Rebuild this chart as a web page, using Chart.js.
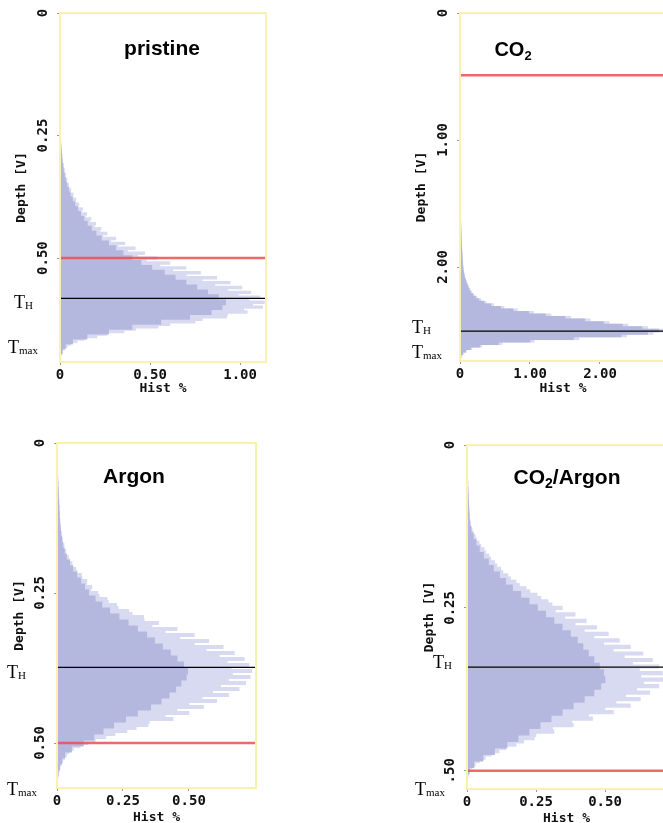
<!DOCTYPE html>
<html><head><meta charset="utf-8">
<script src="https://cdn.jsdelivr.net/npm/chart.js@4.4.1/dist/chart.umd.min.js"></script>
<style>
html,body{margin:0;padding:0;background:#fff;width:663px;height:823px;overflow:hidden;position:relative}
canvas{position:absolute}
</style></head><body>
<canvas id="c1" width="330" height="410" style="left:0px;top:0px;width:330px;height:410px"></canvas>
<canvas id="c2" width="270" height="410" style="left:398px;top:0px;width:270px;height:410px"></canvas>
<canvas id="c3" width="330" height="410" style="left:0px;top:420px;width:330px;height:410px"></canvas>
<canvas id="c4" width="270" height="410" style="left:398px;top:420px;width:270px;height:410px"></canvas>
<script>
// ---------- DATA ----------
const panelTitles = ['pristine', 'CO2', 'Argon', 'CO2/Argon'];
const xAxisTitle = 'Hist %';
const yAxisTitle = 'Depth [V]';

// histogram bin layout (depth of first bin, bin width) per panel
const binStart = [0.25, 1.50, 0.05, 0.05];
const lightStep = [0.005, 0.02, 0.005, 0.005];
const darkStep = [0.01, 0.02, 0.01, 0.01];

// histogram values (Hist %) – light = raw noisy histogram, dark = core
const pristineLight = [0.002,0.003,0.005,0.004,0.007,0.006,0.009,0.008,0.012,0.010,
 0.015,0.013,0.020,0.017,0.025,0.022,0.031,0.028,0.039,0.036,
 0.048,0.045,0.060,0.056,0.073,0.070,0.088,0.084,0.105,0.101,
 0.126,0.118,0.148,0.140,0.172,0.165,0.198,0.190,0.228,0.220,
 0.262,0.238,0.310,0.282,0.360,0.322,0.418,0.375,0.470,0.430,
 0.540,0.480,0.610,0.555,0.700,0.625,0.780,0.700,0.870,0.790,
 0.945,0.860,1.010,0.930,1.060,0.990,1.110,1.050,1.135,1.070,
 1.125,1.020,1.040,0.930,0.925,0.790,0.750,0.610,0.545,0.420,
 0.355,0.260,0.205,0.135,0.095,0.060,0.040,0.024,0.015,0.008,
 0.004];
const pristineDark = [0.002,0.003,0.005,0.007,0.009,0.011,0.015,0.019,0.024,0.030,
 0.038,0.047,0.057,0.069,0.083,0.098,0.115,0.133,0.152,0.175,
 0.200,0.230,0.270,0.310,0.350,0.400,0.450,0.510,0.580,0.640,
 0.700,0.760,0.820,0.880,0.920,0.900,0.840,0.720,0.560,0.400,
 0.270,0.150,0.070,0.030,0.012,0.004];
const co2Light = [0.006,0.006,0.007,0.007,0.008,0.009,0.010,0.011,0.012,0.013,
 0.014,0.016,0.017,0.018,0.019,0.021,0.023,0.025,0.027,0.029,
 0.031,0.033,0.036,0.038,0.041,0.045,0.049,0.055,0.062,0.070,
 0.081,0.094,0.110,0.126,0.143,0.165,0.198,0.242,0.298,0.372,
 0.480,0.630,0.820,1.050,1.300,1.580,1.860,2.130,2.400,2.680,
 2.900,2.760,2.380,1.700,1.060,0.600,0.310,0.170,0.090,0.046,
 0.018,0.006];
const co2Dark = [0.005,0.005,0.006,0.006,0.007,0.008,0.009,0.010,0.011,0.012,
 0.013,0.014,0.015,0.016,0.017,0.019,0.020,0.022,0.024,0.026,
 0.028,0.030,0.032,0.034,0.037,0.040,0.044,0.049,0.055,0.063,
 0.073,0.085,0.100,0.115,0.130,0.150,0.180,0.220,0.270,0.340,
 0.440,0.580,0.760,0.980,1.220,1.500,1.780,2.050,2.320,2.600,
 2.840,2.680,2.300,1.620,1.000,0.550,0.280,0.150,0.080,0.040,
 0.015,0.005];
const argonLight = [0.002,0.003,0.003,0.004,0.004,0.005,0.005,0.006,0.006,0.007,
 0.007,0.008,0.008,0.009,0.010,0.009,0.012,0.011,0.014,0.013,
 0.017,0.016,0.021,0.020,0.027,0.025,0.033,0.032,0.043,0.046,
 0.057,0.058,0.072,0.076,0.093,0.095,0.113,0.112,0.132,0.128,
 0.155,0.160,0.190,0.195,0.226,0.232,0.272,0.285,0.328,0.330,
 0.385,0.360,0.455,0.410,0.520,0.465,0.575,0.520,0.630,0.565,
 0.672,0.615,0.710,0.645,0.728,0.660,0.738,0.665,0.732,0.650,
 0.715,0.620,0.690,0.590,0.650,0.550,0.605,0.500,0.555,0.455,
 0.500,0.410,0.440,0.350,0.345,0.300,0.265,0.220,0.185,0.145,
 0.118,0.088,0.062,0.045,0.036,0.028,0.022,0.016,0.012,0.009,
 0.006,0.004,0.002];
const argonDark = [0.002,0.003,0.004,0.005,0.006,0.007,0.008,0.009,0.010,0.012,
 0.014,0.018,0.022,0.028,0.036,0.048,0.060,0.075,0.090,0.105,
 0.120,0.145,0.170,0.200,0.235,0.270,0.305,0.340,0.370,0.400,
 0.430,0.455,0.480,0.495,0.490,0.470,0.450,0.425,0.395,0.355,
 0.305,0.260,0.215,0.175,0.140,0.100,0.055,0.030,0.018,0.010,
 0.005,0.002];
const mixLight = [0.002,0.002,0.003,0.003,0.004,0.004,0.005,0.005,0.006,0.006,
 0.007,0.008,0.009,0.010,0.013,0.014,0.019,0.022,0.030,0.034,
 0.044,0.050,0.062,0.068,0.080,0.086,0.100,0.108,0.122,0.130,
 0.148,0.158,0.178,0.190,0.214,0.228,0.254,0.268,0.294,0.308,
 0.345,0.320,0.392,0.355,0.432,0.392,0.470,0.425,0.512,0.460,
 0.552,0.495,0.592,0.530,0.638,0.570,0.672,0.600,0.695,0.625,
 0.708,0.630,0.716,0.640,0.695,0.615,0.662,0.575,0.628,0.540,
 0.592,0.500,0.530,0.440,0.455,0.380,0.385,0.310,0.315,0.250,
 0.244,0.205,0.178,0.140,0.116,0.088,0.066,0.045,0.030,0.018,
 0.010,0.005,0.003];
const mixDark = [0.002,0.003,0.004,0.005,0.006,0.007,0.008,0.010,0.015,0.023,
 0.033,0.045,0.060,0.078,0.096,0.118,0.140,0.165,0.195,0.225,
 0.255,0.285,0.315,0.345,0.375,0.400,0.420,0.440,0.460,0.480,
 0.495,0.500,0.485,0.460,0.425,0.385,0.345,0.305,0.265,0.225,
 0.185,0.145,0.100,0.058,0.025,0.008,0.002];

const lightSeries = [pristineLight, co2Light, argonLight, mixLight];
const darkSeries = [pristineDark, co2Dark, argonDark, mixDark];

// reference depths: red line and T_H line
const redLineDepth = [0.50, 0.49, 0.50, 0.50];
const thDepth = [0.582, 2.504, 0.374, 0.341];

// axis ranges and ticks
const depthMax = [0.712, 2.74, 0.575, 0.528];
const depthStep = [0.25, 1, 0.25, 0.25];
const depthTickLabels = [['0','0.25','0.50'], ['0','1.00','2.00'], ['0','0.25','0.50'], ['0','0.25','.50']];
const histMax = [1.144, 2.943, 0.754, 0.721];
const histStep = [0.5, 1, 0.25, 0.25];
const histTickLabels = [['0','0.50','1.00'], ['0','1.00','2.00'], ['0','0.25','0.50'], ['0','0.25','0.50']];

// ---------- STYLE / LAYOUT ----------
const CANVAS_H = 410;
const layoutCfg = [
  {id:'c1', padTop:13, padRight:64, yW:60, xH:48, yTitlePad:14, xTitlePad:14, title:{x:162,y:55,size:21}, th:{x:14,dy:10}, tmax:{x:8,y:353}},
  {id:'c2', padTop:13, padRight:2,  yW:62, xH:49, yTitlePad:16, xTitlePad:14, title:{x:115,y:56,size:20}, th:{x:14,dy:2},  tmax:{x:14,y:358}},
  {id:'c3', padTop:23, padRight:74, yW:57, xH:42, yTitlePad:12, xTitlePad:5,  title:{x:134,y:63,size:21}, th:{x:7,dy:11},  tmax:{x:7,y:375}},
  {id:'c4', padTop:25, padRight:2,  yW:69, xH:41, yTitlePad:24, xTitlePad:4,  title:{x:169,y:64,size:21}, th:{x:35,dy:1},  tmax:{x:17,y:375}}
];
const COL_DARK = 'rgb(181,184,222)';
const COL_LIGHT = 'rgb(216,218,241)';
const COL_RED = 'rgba(238,78,78,0.85)';
const COL_FRAME = 'rgb(250,241,172)';
const MONO = '"DejaVu Sans Mono", monospace';

function toPoints(values, start, step) {
  return values.map((v, i) => ({x: v, y: +(start + i * step).toFixed(4)}));
}

function drawParts(ctx, parts, x, y, align) {
  let w = 0;
  parts.forEach(p => { ctx.font = p.font; p.w = ctx.measureText(p.t).width; w += p.w; });
  let cx = align === 'center' ? x - w / 2 : x;
  ctx.textAlign = 'left'; ctx.textBaseline = 'alphabetic';
  parts.forEach(p => { ctx.font = p.font; ctx.fillText(p.t, cx, y + (p.dy || 0)); cx += p.w; });
}

const decor = {
  id: 'decor',
  afterDatasetsDraw(chart, args, o) {
    const {ctx, chartArea: a} = chart;
    ctx.save();
    ctx.strokeStyle = COL_FRAME; ctx.lineWidth = 2;
    ctx.strokeRect(a.left, a.top, a.right - a.left, a.bottom - a.top);
    ctx.restore();
  },
  afterDraw(chart, args, o) {
    const {ctx} = chart;
    const L = o.layout;
    ctx.save();
    ctx.fillStyle = '#000';
    const sz = L.title.size;
    const parts = o.title.split(/(\d+)/).filter(s => s.length).map(s => /^\d+$/.test(s)
      ? {t: s, font: 'bold ' + Math.round(sz * 0.66) + 'px "Liberation Sans", Arial, sans-serif', dy: 4}
      : {t: s, font: 'bold ' + sz + 'px "Liberation Sans", Arial, sans-serif'});
    drawParts(ctx, parts, L.title.x, L.title.y, 'center');
    const ys = chart.scales.y;
    const serif = '"Liberation Serif", "Times New Roman", serif';
    const yth = ys.getPixelForValue(o.th) + L.th.dy;
    drawParts(ctx, [{t:'T', font:'18px ' + serif}, {t:'H', font:'11px ' + serif, dy:1}], L.th.x, yth, 'left');
    drawParts(ctx, [{t:'T', font:'18px ' + serif}, {t:'max', font:'11px ' + serif, dy:1}], L.tmax.x, L.tmax.y, 'left');
    ctx.restore();
  }
};

function makeChart(k) {
  const L = layoutCfg[k];
  const plotH = CANVAS_H - L.padTop - L.xH;       // chart-area height in px
  const pxPerDepth = plotH / depthMax[k];
  const lineSet = (d, color, w) => ({
    type: 'line', data: [{x: 0, y: d}, {x: histMax[k], y: d}],
    borderColor: color, borderWidth: w, pointRadius: 0, yAxisID: 'y', order: 0
  });
  const barSet = (label, vals, step, axis, color, order) => ({
    label, data: toPoints(vals, binStart[k], step), yAxisID: axis,
    backgroundColor: color, borderWidth: 0, grouped: false,
    barThickness: step * pxPerDepth + 0.3, order
  });
  const yBase = {type: 'linear', reverse: true, min: 0, max: depthMax[k], bounds: 'data', offset: false};
  new Chart(document.getElementById(L.id), {
    type: 'bar',
    data: {
      datasets: [
        lineSet(redLineDepth[k], COL_RED, 2.5),
        lineSet(thDepth[k], '#000', 1.2),
        barSet('core', darkSeries[k], darkStep[k], 'yd', COL_DARK, 1),
        barSet('hist', lightSeries[k], lightStep[k], 'y', COL_LIGHT, 2)
      ]
    },
    options: {
      indexAxis: 'y', responsive: false, animation: false, events: [],
      layout: {padding: {left: 0, top: L.padTop, right: L.padRight, bottom: 0}},
      plugins: {legend: {display: false}, tooltip: {enabled: false},
        decor: {layout: L, title: panelTitles[k], th: thDepth[k]}},
      scales: {
        x: {type: 'linear', position: 'bottom', min: 0, max: histMax[k], bounds: 'data', offset: false,
          border: {display: false},
          grid: {drawOnChartArea: false, drawTicks: true, tickLength: 3, tickColor: '#999', offset: false},
          ticks: {stepSize: histStep[k], includeBounds: false, autoSkip: false, maxRotation: 0, minRotation: 0,
            padding: 2, color: '#111', font: {family: MONO, size: 14, weight: 'bold'},
            callback: v => histTickLabels[k][Math.round(v / histStep[k])]},
          title: {display: true, text: xAxisTitle, color: '#111', font: {family: MONO, size: 13, weight: 'bold'},
            padding: {top: 0, bottom: L.xTitlePad}},
          afterFit: s => { s.height = L.xH; }},
        y: Object.assign({}, yBase, {position: 'left',
          border: {display: false},
          grid: {drawOnChartArea: false, drawTicks: true, tickLength: 3, tickColor: '#999', offset: false},
          ticks: {stepSize: depthStep[k], includeBounds: false, autoSkip: false, minRotation: 90, maxRotation: 90,
            crossAlign: 'center', padding: -3, color: '#111', font: {family: MONO, size: 14, weight: 'bold'},
            callback: v => depthTickLabels[k][Math.round(v / depthStep[k])]},
          title: {display: true, text: yAxisTitle, color: '#111', font: {family: MONO, size: 13, weight: 'bold'},
            padding: {top: L.yTitlePad, bottom: 0}},
          afterFit: s => { s.width = L.yW; }}),
        yd: Object.assign({}, yBase, {axis: 'y', display: false, grid: {offset: false}})
      }
    },
    plugins: [decor]
  });
}
[0, 1, 2, 3].forEach(makeChart);
</script>
</body></html>
